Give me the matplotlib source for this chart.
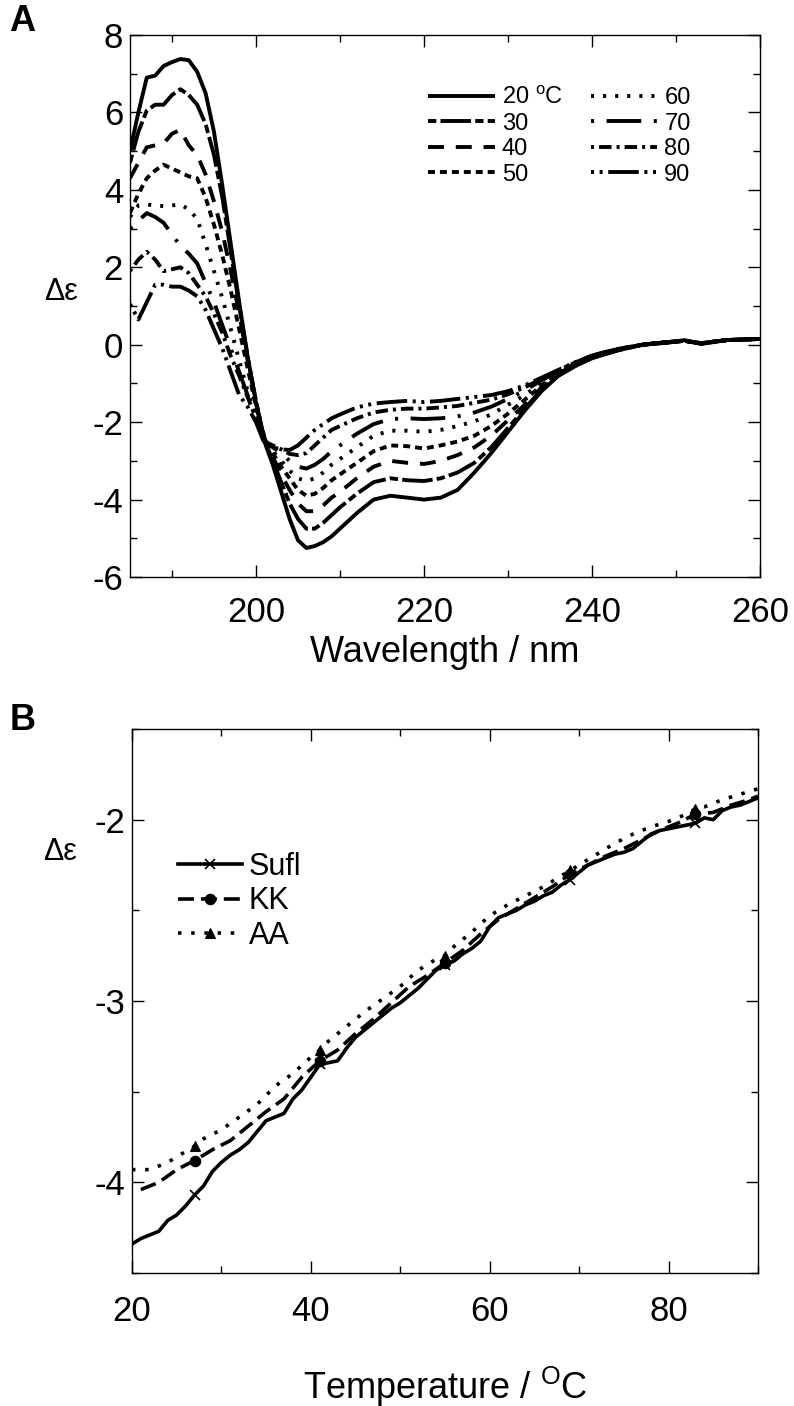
import matplotlib
matplotlib.use("Agg")
import matplotlib.pyplot as plt
from matplotlib.ticker import MultipleLocator

plt.rcParams["font.family"] = ["Liberation Sans", "DejaVu Sans"]
plt.rcParams["mathtext.fontset"] = "custom"
plt.rcParams["mathtext.rm"] = "Liberation Sans"
plt.rcParams["lines.scale_dashes"] = False
plt.rcParams["axes.unicode_minus"] = False

# ---- panel A: CD spectra at several temperatures ----
wavelength = [185, 186, 187, 188, 189, 190, 191, 192, 193, 194, 195, 196, 197, 198, 199,
              200, 201, 202, 203, 204, 205, 206, 207, 208, 209, 210, 212, 214, 216, 218,
              220, 222, 224, 226, 228, 230, 232, 234, 236, 238, 240, 243, 246, 249, 251,
              253, 256, 260]
temps_a = [20, 30, 40, 50, 60, 70, 80, 90]

de_20 = [5.0, 6.0, 6.9, 6.95, 7.2, 7.3, 7.38, 7.35, 7.05, 6.5, 5.5, 4.1, 2.6, 1.1, -0.3,
         -1.5, -2.5, -3.1, -3.8, -4.5, -5.05, -5.25, -5.2, -5.1, -4.95, -4.75, -4.35, -4.0, -3.9, -3.95,
         -4.0, -3.95, -3.75, -3.3, -2.8, -2.25, -1.7, -1.2, -0.8, -0.55, -0.35, -0.15, 0.0, 0.05, 0.12,
         0.02, 0.12, 0.15]
de_30 = [4.7, 5.5, 6.05, 6.2, 6.2, 6.45, 6.6, 6.45, 6.2, 5.7, 4.9, 3.8, 2.4, 1.0, -0.3,
         -1.45, -2.45, -3.0, -3.55, -4.1, -4.5, -4.75, -4.75, -4.6, -4.4, -4.2, -3.85, -3.55, -3.45, -3.5,
         -3.52, -3.45, -3.3, -3.05, -2.65, -2.15, -1.65, -1.15, -0.8, -0.55, -0.33, -0.15, 0.0, 0.06, 0.1,
         0.03, 0.12, 0.15]
de_40 = [4.3, 4.7, 5.1, 5.15, 5.2, 5.45, 5.55, 5.15, 4.9, 4.4, 3.7, 2.9, 1.9, 0.8, -0.4,
         -1.5, -2.4, -2.9, -3.35, -3.75, -4.1, -4.3, -4.3, -4.15, -3.95, -3.8, -3.45, -3.15, -3.0, -3.05,
         -3.08, -3.0, -2.85, -2.65, -2.35, -1.95, -1.55, -1.1, -0.78, -0.52, -0.32, -0.14, 0.0, 0.06, 0.1,
         0.03, 0.12, 0.15]
de_50 = [3.4, 3.9, 4.3, 4.5, 4.65, 4.55, 4.45, 4.35, 4.3, 3.8, 3.1, 2.3, 1.4, 0.4, -0.6,
         -1.6, -2.4, -2.8, -3.15, -3.45, -3.75, -3.9, -3.85, -3.7, -3.5, -3.35, -3.05, -2.75, -2.6, -2.62,
         -2.68, -2.6, -2.5, -2.35, -2.1, -1.78, -1.42, -1.05, -0.75, -0.5, -0.31, -0.13, 0.0, 0.07, 0.1,
         0.04, 0.12, 0.15]
de_60 = [3.3, 3.6, 3.62, 3.6, 3.58, 3.6, 3.62, 3.5, 3.25, 2.6, 1.9, 1.2, 0.4, -0.4, -1.2,
         -1.9, -2.5, -2.75, -3.0, -3.25, -3.45, -3.52, -3.45, -3.3, -3.1, -2.95, -2.65, -2.35, -2.22, -2.22,
         -2.25, -2.2, -2.1, -1.98, -1.8, -1.55, -1.3, -0.98, -0.72, -0.48, -0.3, -0.12, 0.0, 0.07, 0.1,
         0.04, 0.12, 0.15]
de_70 = [3.0, 3.2, 3.4, 3.3, 3.15, 2.85, 2.55, 2.35, 2.1, 1.6, 1.1, 0.5, -0.1, -0.7, -1.3,
         -1.9, -2.5, -2.65, -2.8, -3.0, -3.15, -3.2, -3.1, -2.95, -2.75, -2.6, -2.3, -2.05, -1.92, -1.9,
         -1.92, -1.9, -1.85, -1.75, -1.6, -1.4, -1.18, -0.92, -0.68, -0.47, -0.29, -0.12, 0.0, 0.07, 0.1,
         0.04, 0.12, 0.15]
de_80 = [1.9, 2.2, 2.4, 2.2, 1.9, 1.95, 2.0, 1.85, 1.55, 1.25, 0.8, 0.3, -0.3, -0.8, -1.35,
         -1.9, -2.5, -2.6, -2.7, -2.82, -2.85, -2.8, -2.6, -2.4, -2.2, -2.1, -1.9, -1.75, -1.68, -1.65,
         -1.65, -1.62, -1.58, -1.5, -1.42, -1.28, -1.1, -0.88, -0.66, -0.46, -0.28, -0.11, 0.0, 0.07, 0.1,
         0.04, 0.12, 0.15]
de_90 = [1.05, 0.65, 1.1, 1.55, 1.55, 1.5, 1.5, 1.4, 1.25, 0.9, 0.4, -0.1, -0.7, -1.3, -1.6,
         -2.0, -2.55, -2.65, -2.7, -2.72, -2.6, -2.4, -2.2, -2.05, -1.9, -1.8, -1.62, -1.52, -1.48, -1.45,
         -1.48, -1.45, -1.4, -1.35, -1.3, -1.2, -1.05, -0.85, -0.65, -0.45, -0.28, -0.11, 0.0, 0.07, 0.1,
         0.04, 0.12, 0.15]
spectra = [de_20, de_30, de_40, de_50, de_60, de_70, de_80, de_90]
labels_a = [r"20 $^{\rm o}$C", "30", "40", "50", "60", "70", "80", "90"]

# ---- panel B: thermal melts ----
temp_sufl = list(range(20, 91))
de_sufl = [-4.34, -4.31, -4.29, -4.27, -4.21, -4.18, -4.13, -4.07, -4.02, -3.94,
           -3.89, -3.85, -3.82, -3.78, -3.72, -3.66, -3.64, -3.62, -3.54, -3.49,
           -3.42, -3.35, -3.34, -3.33, -3.26, -3.20, -3.16, -3.12, -3.08, -3.04,
           -3.01, -2.97, -2.93, -2.88, -2.83, -2.80, -2.78, -2.74, -2.71, -2.67,
           -2.59, -2.54, -2.52, -2.50, -2.47, -2.45, -2.42, -2.40, -2.36, -2.33,
           -2.29, -2.25, -2.23, -2.21, -2.19, -2.18, -2.16, -2.12, -2.08, -2.06,
           -2.05, -2.04, -2.03, -2.02, -1.99, -2.00, -1.95, -1.93, -1.92, -1.90, -1.88]
temp_kk = [21, 23, 25, 27, 29, 31, 33, 35, 37, 39, 41, 43, 45, 47, 49, 51, 53, 55,
           57, 59, 61, 63, 65, 67, 69, 71, 73, 75, 77, 79, 81, 83, 85, 87, 89, 90]
de_kk = [-4.04, -4.00, -3.93, -3.88, -3.82, -3.77, -3.69, -3.61, -3.54, -3.42, -3.33, -3.27,
         -3.18, -3.10, -3.01, -2.92, -2.86, -2.79, -2.72, -2.63, -2.55, -2.49, -2.43, -2.37,
         -2.30, -2.25, -2.20, -2.16, -2.11, -2.06, -2.02, -1.97, -1.96, -1.92, -1.89, -1.87]
temp_aa = [20, 22, 24, 26, 27, 28, 30, 32, 34, 36, 38, 40, 41, 42, 44, 46, 48, 50, 52, 54,
           55, 56, 58, 60, 62, 64, 66, 68, 69, 70, 72, 74, 76, 78, 80, 82, 83, 84, 86, 88, 90]
de_aa = [-3.93, -3.93, -3.89, -3.83, -3.80, -3.76, -3.71, -3.64, -3.57, -3.47, -3.40, -3.31,
         -3.27, -3.22, -3.14, -3.06, -2.99, -2.92, -2.83, -2.77, -2.75, -2.70, -2.62, -2.53,
         -2.47, -2.42, -2.37, -2.31, -2.28, -2.25, -2.19, -2.13, -2.08, -2.04, -2.01, -1.97,
         -1.94, -1.93, -1.89, -1.86, -1.83]
marker_temps = [27, 41, 55, 69, 83]

LS_A = [
    "-",
    (0, (6, 3, 22, 3)),
    (0, (11.5, 8.5)),
    (0, (5, 3.6)),
    (0, (2.2, 6.5)),
    (0, (2.2, 9, 25, 9)),
    (0, (2.2, 3.6, 9, 3.6)),
    (0, (2.2, 4, 2.2, 4, 22, 4)),
]


def style_axes(ax):
    ax.tick_params(which="both", direction="in", top=True, right=True, width=1,
                   labelsize=25)
    ax.tick_params(which="major", length=8.5)
    ax.tick_params(which="minor", length=5)
    for sp in ax.spines.values():
        sp.set_linewidth(1)


fig = plt.figure(figsize=(7.94, 14.06), dpi=100)

# panel A
ax = fig.add_axes([0.1637, 0.5896, 0.7935, 0.3855])
for vals, lab, ls in zip(spectra, labels_a, LS_A):
    ax.plot(wavelength, vals, color="black", lw=2.8, ls=ls, label=lab,
            solid_capstyle="butt", dash_capstyle="butt")
ax.set_xlim(185, 260)
ax.set_ylim(-6, 8)
ax.xaxis.set_major_locator(MultipleLocator(20))
ax.xaxis.set_minor_locator(MultipleLocator(10))
ax.yaxis.set_major_locator(MultipleLocator(2))
ax.yaxis.set_minor_locator(MultipleLocator(1))
style_axes(ax)
ax.tick_params(axis="x", pad=14)
ax.tick_params(axis="y", pad=5)
ax.set_xlabel("Wavelength / nm", fontsize=26, labelpad=4)
ax.set_ylabel("Δε", fontsize=22, rotation=0, va="center")
ax.yaxis.set_label_coords(-0.11, 0.526)
ax.legend(ncol=2, loc="upper left", bbox_to_anchor=(0.44, 0.945), frameon=False,
          fontsize=17, handlelength=2.8, handletextpad=0.3, columnspacing=1.2,
          labelspacing=0.15)

# panel B
bx = fig.add_axes([0.1662, 0.0946, 0.7884, 0.3869])
series_b = [
    (temp_sufl, de_sufl, "Sufl", "-", "x"),
    (temp_kk, de_kk, "KK", (0, (11.5, 5)), "o"),
    (temp_aa, de_aa, "AA", (0, (2.5, 7)), "^"),
]
for t, v, lab, ls, mk in series_b:
    idx = [t.index(m) for m in marker_temps]
    bx.plot(t, v, color="black", lw=2.6, ls=ls, marker=mk, markevery=idx,
            markersize=7.5, markeredgewidth=1.2 if mk == "x" else 0.8, label=lab,
            dash_capstyle="butt")
bx.set_xlim(20, 90)
bx.set_ylim(-4.5, -1.5)
bx.xaxis.set_major_locator(MultipleLocator(20))
bx.xaxis.set_minor_locator(MultipleLocator(10))
bx.yaxis.set_major_locator(MultipleLocator(1))
bx.yaxis.set_minor_locator(MultipleLocator(0.5))
style_axes(bx)
bx.tick_params(axis="x", pad=16)
bx.tick_params(axis="y", pad=5)
bx.set_xlabel(r"Temperature / $^{\rm O}$C", fontsize=26, labelpad=26)
bx.set_ylabel("Δε", fontsize=22, rotation=0, va="center")
bx.yaxis.set_label_coords(-0.115, 0.774)
bx.legend(loc="upper left", bbox_to_anchor=(0.03, 0.825), frameon=False,
          fontsize=22, handlelength=2.1, handletextpad=0.2, labelspacing=0.15,
          numpoints=1)

fig.text(0.012, 0.997, "A", fontsize=26, fontweight="bold", va="top")
fig.text(0.012, 0.5, "B", fontsize=26, fontweight="bold", va="top")

fig.savefig("out.png", dpi=100)
